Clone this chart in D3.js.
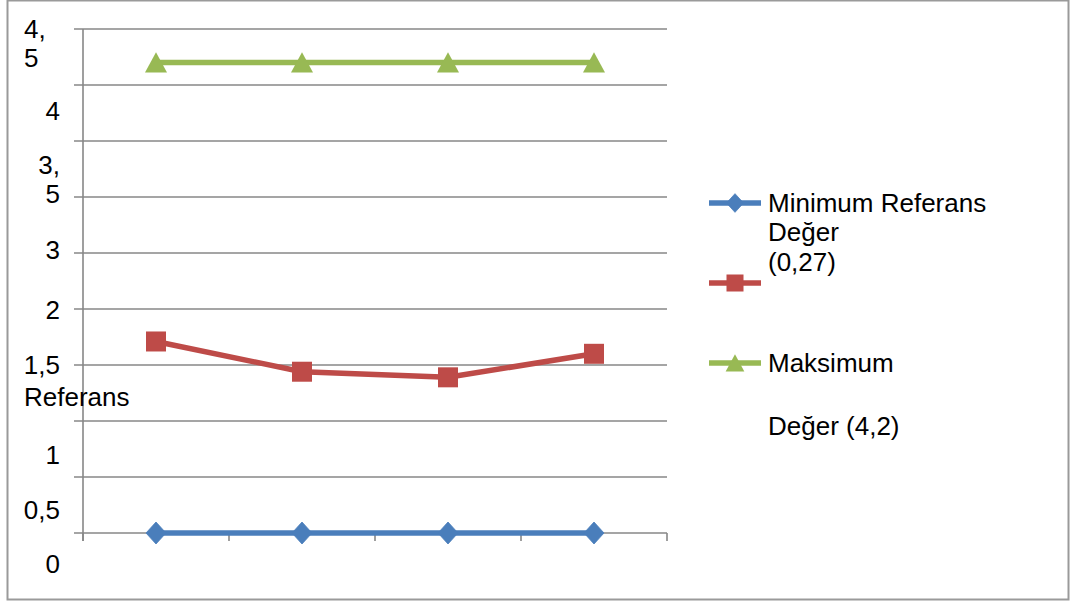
<!DOCTYPE html>
<html>
<head>
<meta charset="utf-8">
<script src="https://cdn.jsdelivr.net/npm/d3@7"></script>
<style>
  html, body { margin: 0; padding: 0; background: #fff; }
  svg { display: block; font-family: "Liberation Sans", Arial, sans-serif; }
</style>
</head>
<body>
<svg id="chart" width="1071" height="603"></svg>
<script>
// ---- data ----
const categories = ["1", "2", "3", "4"];
const seriesNames = ["Minimum Referans Değer (0,27)", "", "Maksimum Değer (4,2)"];
const minValues = [0, 0, 0, 0];
const midValues = [1.71, 1.44, 1.39, 1.60];
const maxValues = [4.2, 4.2, 4.2, 4.2];
const gridValues = [0, 0.5, 1, 1.5, 2, 2.5, 3, 3.5, 4, 4.5];
const yTickLabels = ["0", "0,5", "1", "Referans", "1,5", "2", "3", "3,\n5", "4", "4,\n5"];
const yTickLabelPos = [-0.27, 0.21, 0.70, 1.22, 1.5, 1.99, 2.53, 3.16, 3.77, 4.37];
const legendLines = [["Minimum Referans", "Değer", "(0,27)"], [], ["Maksimum", "", "Değer (4,2)"]];

// ---- layout ----
const svg = d3.select("#chart");
const colors = ["#4A7EBB", "#BE4B48", "#98B954"];
const gridColor = "#878787";
const plot = { left: 83, right: 667, top: 29, bottom: 533 };

svg.append("rect")
  .attr("x", 7.5).attr("y", 0.5).attr("width", 1061).attr("height", 599)
  .attr("fill", "#fff").attr("stroke", "#9a9a9a").attr("stroke-width", 2);

const x = d3.scaleBand().domain(categories).range([plot.left, plot.right]).padding(0);
const y = d3.scaleLinear().domain([0, 4.5]).range([plot.bottom, plot.top]);

// gridlines (extend left as tick marks)
svg.append("g").selectAll("line").data(gridValues).join("line")
  .attr("x1", plot.left - 9).attr("x2", plot.right)
  .attr("y1", d => y(d)).attr("y2", d => y(d))
  .attr("stroke", gridColor).attr("stroke-width", 1.6);

// y axis line
svg.append("line")
  .attr("x1", plot.left).attr("x2", plot.left)
  .attr("y1", y(4.5)).attr("y2", y(0) + 8)
  .attr("stroke", gridColor).attr("stroke-width", 1.6);

// x axis ticks at category boundaries
const bounds = categories.map(c => x(c)).concat([plot.right]);
svg.append("g").selectAll("line").data(bounds).join("line")
  .attr("x1", d => d).attr("x2", d => d)
  .attr("y1", y(0)).attr("y2", y(0) + 8)
  .attr("stroke", gridColor).attr("stroke-width", 1.6);

// y tick labels (as drawn in reference)
const fs = 26;
const lblG = svg.append("g").attr("font-size", fs).attr("fill", "#000");
yTickLabels.forEach((t, i) => {
  const lines = t.split("\n");
  const isWord = /[A-Za-z]/.test(t);
  const leftAligned = isWord || i === yTickLabels.length - 1;
  const lh = 29;
  const cy = y(yTickLabelPos[i]);
  lines.forEach((ln, k) => {
    lblG.append("text")
      .attr("text-anchor", leftAligned ? "start" : "end")
      .attr("x", leftAligned ? 24 : 60)
      .attr("y", cy - (lines.length - 1) * lh / 2 + k * lh + fs * 0.36)
      .text(ln);
  });
});

// series
const series = [minValues, midValues, maxValues];
const line = d3.line().x((d, i) => x(categories[i]) + x.bandwidth() / 2).y(d => y(d));

function marker(g, type, cx, cy, s, color) {
  if (type === 0) {
    g.append("path").attr("d", `M${cx},${cy - s * 0.55}L${cx + s * 0.5},${cy}L${cx},${cy + s * 0.55}L${cx - s * 0.5},${cy}Z`)
      .attr("fill", color).attr("stroke", color).attr("stroke-width", 0.8);
  } else if (type === 1) {
    g.append("rect").attr("x", cx - s / 2).attr("y", cy - s / 2).attr("width", s).attr("height", s)
      .attr("fill", color);
  } else {
    g.append("path").attr("d", `M${cx},${cy - s * 0.52}L${cx + s * 0.55},${cy + s * 0.5}L${cx - s * 0.55},${cy + s * 0.5}Z`)
      .attr("fill", color);
  }
}

series.forEach((vals, si) => {
  const g = svg.append("g");
  g.append("path").datum(vals).attr("d", line)
    .attr("fill", "none").attr("stroke", colors[si]).attr("stroke-width", 5.5)
    .attr("stroke-linejoin", "round");
  vals.forEach((v, i) => {
    marker(g, si, x(categories[i]) + x.bandwidth() / 2, y(v), 20, colors[si]);
  });
});

// legend
const legendY = [203, 283, 363];
const legendTextY = [[212, 241, 271], [], [372, null, 435]];
legendY.forEach((ly, si) => {
  const g = svg.append("g");
  g.append("line").attr("x1", 709).attr("x2", 761).attr("y1", ly).attr("y2", ly)
    .attr("stroke", colors[si]).attr("stroke-width", 5.5);
  marker(g, si, 735, ly, 17, colors[si]);
  legendLines[si].forEach((t, k) => {
    if (!t) return;
    g.append("text").attr("x", 768).attr("y", legendTextY[si][k])
      .attr("font-size", fs).attr("fill", "#000").text(t);
  });
});
</script>
</body>
</html>
